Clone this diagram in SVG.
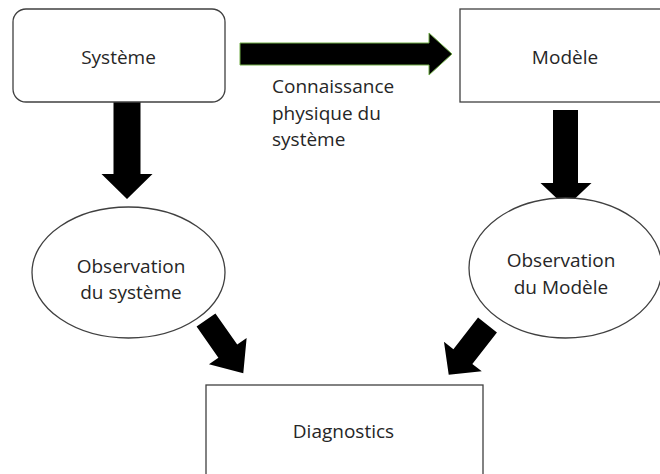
<svg xmlns="http://www.w3.org/2000/svg" width="660" height="474" viewBox="0 0 660 474">
<style>
.box{fill:#fff;stroke:#404040;stroke-width:1.3}
.t{font-family:"Open Sans","Noto Sans","Liberation Sans",sans-serif;font-size:19px;fill:#262626}
.c{text-anchor:middle}
.arr{fill:#000}
</style>
<rect width="660" height="474" fill="#fff"/>
<g id="connectors">
<polygon class="arr" points="240,43 429,43 429,33 452,54 429,75 429,65 240,65" stroke="#70AD47" stroke-width="1"/>
<polygon class="arr" points="113.5,102 140.5,102 140.5,174 152.5,174 127,199 101.5,174 113.5,174"/>
<polygon class="arr" points="553,110 578,110 578,183 591.5,183 566,207 540.5,183 553,183"/>
<polygon class="arr" transform="translate(206,320) rotate(55)" points="0,-11.5 38,-11.5 38,-23 65,0 38,23 38,11.5 0,11.5"/>
<polygon class="arr" transform="translate(487.5,325) rotate(128)" points="0,-12 40,-12 40,-24 63,0 40,24 40,12 0,12"/>
</g>
<g id="systeme">
<rect class="box" x="13" y="9" width="212" height="93" rx="13"/>
<text class="t c" x="118.5" y="64">Système</text>
</g>
<g id="modele">
<rect class="box" x="460" y="9" width="210" height="93"/>
<text class="t c" x="565" y="64">Modèle</text>
</g>
<g id="label-connaissance">
<text class="t" x="272" y="93">Connaissance</text>
<text class="t" x="272" y="119.5">physique du</text>
<text class="t" x="272" y="146">système</text>
</g>
<g id="obs-systeme">
<ellipse class="box" cx="128.5" cy="272.5" rx="96.5" ry="65.5"/>
<text class="t c" x="131" y="273">Observation</text>
<text class="t c" x="131" y="299">du système</text>
</g>
<g id="obs-modele">
<ellipse class="box" cx="565.5" cy="268" rx="96.5" ry="70"/>
<text class="t c" x="561" y="267">Observation</text>
<text class="t c" x="561" y="294">du Modèle</text>
</g>
<g id="diagnostics">
<rect class="box" x="206" y="385" width="277" height="100"/>
<text class="t c" x="343.5" y="438">Diagnostics</text>
</g>
</svg>
